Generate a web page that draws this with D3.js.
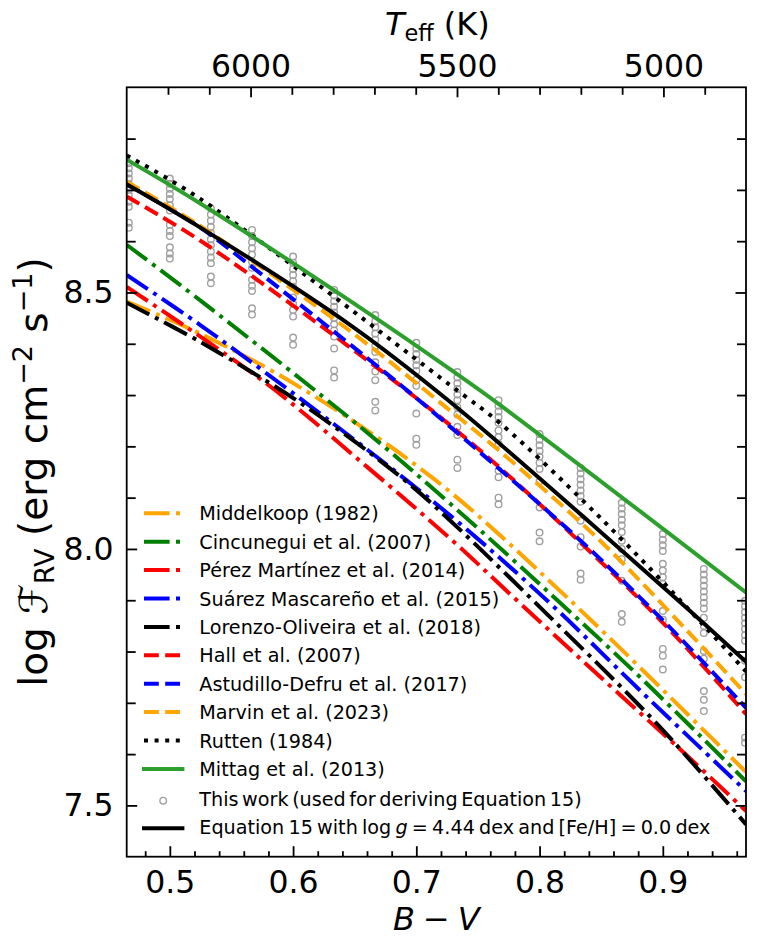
<!DOCTYPE html>
<html><head><meta charset="utf-8">
<script src="https://cdn.jsdelivr.net/npm/d3@7"></script>
<style>body{margin:0;background:#fff}svg{display:block}text{font-family:"DejaVu Sans",sans-serif;fill:#000}</style>
</head><body><svg id="c" width="757" height="948"></svg>
<script>
// ---------- data ----------
const bvTicks = [0.5, 0.6, 0.7, 0.8, 0.9];
const bvMinorTicks = [0.48,0.52,0.54,0.56,0.58,0.62,0.64,0.66,0.68,0.72,0.74,0.76,0.78,0.82,0.84,0.86,0.88,0.92,0.94,0.96];
const fTicks = [7.5, 8.0, 8.5];
const fMinorTicks = [7.6,7.7,7.8,7.9,8.1,8.2,8.3,8.4,8.6,8.7,8.8];
const teffTicks = [6000, 5500, 5000];
const teffMinorTicks = [6200,6100,5900,5800,5700,5600,5400,5300,5200,5100,4900];

const bvMiddelkoop = [0.465, 0.5244, 0.6057, 0.714, 0.8225, 0.9675];
const fMiddelkoop  = [8.482, 8.420, 8.315, 8.137, 7.905, 7.565];
const bvCincunegui = [0.465, 0.5244, 0.6545, 0.7276, 0.809, 0.882, 0.9675];
const fCincunegui  = [8.593, 8.485, 8.238, 8.088, 7.912, 7.749, 7.547];
const bvPerez = [0.465, 0.5786, 0.660, 0.7276, 0.7846, 0.844, 0.9228, 0.9675];
const fPerez  = [8.511, 8.322, 8.160, 8.020, 7.893, 7.762, 7.590, 7.489];
const bvSuarez = [0.465, 0.5244, 0.6328, 0.7276, 0.809, 0.882, 0.9675];
const fSuarez  = [8.534, 8.437, 8.244, 8.065, 7.893, 7.723, 7.528];
const bvLorenzo = [0.465, 0.5244, 0.6057, 0.687, 0.7276, 0.806, 0.8957, 0.9675];
const fLorenzo  = [8.480, 8.404, 8.285, 8.141, 8.055, 7.873, 7.658, 7.463];
const bvHall = [0.465, 0.5298, 0.7276, 0.8496, 0.9065, 0.9675];
const fHall  = [8.687, 8.593, 8.241, 7.975, 7.840, 7.678];
const bvAstudillo = [0.465, 0.5244, 0.565, 0.687, 0.7276, 0.836, 0.9065, 0.9675];
const fAstudillo  = [8.711, 8.627, 8.553, 8.320, 8.238, 8.010, 7.845, 7.690];
const bvMarvin = [0.465, 0.5244, 0.6462, 0.7273, 0.768, 0.8496, 0.920, 0.9675];
const fMarvin  = [8.716, 8.630, 8.425, 8.270, 8.190, 8.015, 7.840, 7.717];
const bvRutten = [0.465, 0.5244, 0.7276, 0.768, 0.8496, 0.9328, 0.9675];
const fRutten  = [8.767, 8.683, 8.319, 8.245, 8.060, 7.852, 7.761];
const bvMittag = [0.465, 0.5244, 0.6653, 0.7276, 0.7683, 0.9675];
const fMittag  = [8.759, 8.674, 8.453, 8.350, 8.280, 7.915];
const bvEq15 = [0.465, 0.5245, 0.6462, 0.7273, 0.8355, 0.9194, 0.9675];
const fEq15  = [8.711, 8.627, 8.437, 8.287, 8.063, 7.885, 7.780];

const thisWorkBV = [0.4667,0.5,0.5333,0.5667,0.6,0.6333,0.6667,0.7,0.7333,0.7667,0.8,0.8333,0.8667,0.9,0.9333,0.9667];
const thisWorkF = [
 [8.752,8.742,8.732,8.722,8.712,8.700,8.690,8.677,8.667,8.636,8.626],
 [8.722,8.712,8.702,8.692,8.682,8.670,8.660,8.632,8.620,8.610,8.588,8.576,8.566],
 [8.664,8.652,8.640,8.628,8.616,8.604,8.592,8.580,8.568,8.557,8.531,8.518],
 [8.622,8.610,8.598,8.586,8.574,8.560,8.548,8.525,8.513,8.503,8.469,8.457],
 [8.570,8.558,8.546,8.534,8.522,8.511,8.490,8.478,8.466,8.453,8.412,8.398],
 [8.505,8.494,8.483,8.472,8.461,8.450,8.438,8.426,8.414,8.391,8.348,8.334],
 [8.456,8.444,8.432,8.420,8.408,8.396,8.384,8.364,8.346,8.329,8.287,8.270],
 [8.402,8.391,8.380,8.369,8.358,8.347,8.330,8.318,8.264,8.215,8.203],
 [8.345,8.334,8.323,8.312,8.301,8.290,8.276,8.262,8.238,8.222,8.174,8.158],
 [8.290,8.279,8.268,8.257,8.246,8.231,8.218,8.205,8.153,8.140,8.100,8.087],
 [8.224,8.213,8.202,8.191,8.180,8.168,8.156,8.132,8.081,8.032,8.015],
 [8.158,8.147,8.136,8.125,8.114,8.103,8.092,8.055,8.023,8.005,7.952,7.940],
 [8.090,8.079,8.068,8.057,8.046,8.033,8.016,8.000,7.980,7.938,7.873,7.858],
 [8.029,8.018,8.007,7.996,7.971,7.958,7.945,7.932,7.879,7.862,7.805,7.792,7.765],
 [7.961,7.950,7.939,7.928,7.917,7.906,7.895,7.884,7.866,7.850,7.836,7.801,7.786,7.723,7.706,7.684],
 [7.899,7.888,7.877,7.866,7.855,7.844,7.832,7.821,7.782,7.750,7.632,7.622]
];

const seriesNames = ["Middelkoop (1982)","Cincunegui et al. (2007)","Pérez Martínez et al. (2014)","Suárez Mascareño et al. (2015)","Lorenzo-Oliveira et al. (2018)","Hall et al. (2007)","Astudillo-Defru et al. (2017)","Marvin et al. (2023)","Rutten (1984)","Mittag et al. (2013)"];
const seriesBV = [bvMiddelkoop,bvCincunegui,bvPerez,bvSuarez,bvLorenzo,bvHall,bvAstudillo,bvMarvin,bvRutten,bvMittag];
const seriesF  = [fMiddelkoop,fCincunegui,fPerez,fSuarez,fLorenzo,fHall,fAstudillo,fMarvin,fRutten,fMittag];
const seriesColors = ["#FFA500","#008000","#FF0000","#0000FF","#000000","#FF0000","#0000FF","#FFA500","#000000","#2CA02C"];
const seriesStyles = ["dashdot","dashdot","dashdot","dashdot","dashdot","dashed","dashed","dashed","dotted","solid"];

// ---------- drawing ----------
const W = 757, H = 948;
const X0 = 126.7, X1 = 746, Y0 = 87.3, Y1 = 856.7;
const LW = 4;
const dashes = {solid:null, dashed:`${3.7*LW},${1.6*LW}`, dashdot:`${6.4*LW},${1.6*LW},${1*LW},${1.6*LW}`, dotted:`${1*LW},${1.65*LW}`};

const svg = d3.select("#c");
svg.append("rect").attr("width",W).attr("height",H).attr("fill","#fff");

const x = d3.scaleLinear().domain([0.465, 0.9675]).range([X0, X1]);
const y = d3.scaleLinear().domain([7.4, 8.9]).range([Y1, Y0]);
const t = d3.scaleLinear().domain([6300, 4800]).range([X0, X1]);

svg.append("clipPath").attr("id","clip").append("rect")
  .attr("x",X0).attr("y",Y0).attr("width",X1-X0).attr("height",Y1-Y0);
const plot = svg.append("g").attr("clip-path","url(#clip)");

// scatter (below lines)
const pts = [];
thisWorkBV.forEach((bv,i)=>thisWorkF[i].forEach(f=>pts.push([bv,f])));
plot.append("g").selectAll("circle").data(pts).join("circle")
  .attr("cx",d=>x(d[0])).attr("cy",d=>y(d[1])).attr("r",3.3)
  .attr("fill","none").attr("stroke","#a0a0a0").attr("stroke-width",1.4);

const line = d3.line().x(d=>x(d[0])).y(d=>y(d[1])).curve(d3.curveCatmullRom.alpha(0.5));
function drawSeries(bv, f, color, style){
  plot.append("path").datum(bv.map((b,i)=>[b,f[i]]))
    .attr("d",line).attr("fill","none").attr("stroke",color).attr("stroke-width",LW)
    .attr("stroke-dasharray",dashes[style]).attr("stroke-linecap", style==="solid"?"square":"butt");
}
seriesNames.forEach((n,i)=>drawSeries(seriesBV[i],seriesF[i],seriesColors[i],seriesStyles[i]));
drawSeries(bvEq15, fEq15, "#000000", "solid");

// ---------- axes ----------
const TICKFS = 31.5;
function styleAxis(g){
  g.attr("font-size",null).attr("font-family",null);
  g.select(".domain").remove();
  g.selectAll(".tick line").attr("stroke","#000").attr("stroke-width",1.8);
  g.selectAll(".tick text").attr("font-size",TICKFS).attr("fill","#000");
}
svg.append("g").attr("transform",`translate(0,${Y1})`)
  .call(d3.axisBottom(x).tickValues(bvTicks).tickFormat(d3.format(".1f")).tickSize(-10.5).tickPadding(13.6)).call(styleAxis);
svg.append("g").attr("transform",`translate(0,${Y1})`)
  .call(d3.axisBottom(x).tickValues(bvMinorTicks).tickFormat("").tickSize(-5.5)).call(styleAxis);
svg.append("g").attr("transform",`translate(${X0},0)`)
  .call(d3.axisLeft(y).tickValues(fTicks).tickFormat(d3.format(".1f")).tickSize(-10.5).tickPadding(13.2)).call(styleAxis);
svg.append("g").attr("transform",`translate(${X0},0)`)
  .call(d3.axisLeft(y).tickValues(fMinorTicks).tickFormat("").tickSize(-9)).call(styleAxis);
svg.append("g").attr("transform",`translate(${X1},0)`)
  .call(d3.axisRight(y).tickValues(fTicks).tickFormat("").tickSize(-10.5)).call(styleAxis);
svg.append("g").attr("transform",`translate(${X1},0)`)
  .call(d3.axisRight(y).tickValues(fMinorTicks).tickFormat("").tickSize(-9)).call(styleAxis);
svg.append("g").attr("transform",`translate(0,${Y0})`)
  .call(d3.axisTop(t).tickValues(teffTicks).tickFormat(d3.format("d")).tickSize(-10).tickPadding(10.8)).call(styleAxis);
svg.append("g").attr("transform",`translate(0,${Y0})`)
  .call(d3.axisTop(t).tickValues(teffMinorTicks).tickFormat("").tickSize(-7.5)).call(styleAxis);

svg.append("rect").attr("x",X0).attr("y",Y0).attr("width",X1-X0).attr("height",Y1-Y0)
  .attr("fill","none").attr("stroke","#000").attr("stroke-width",1.8);

// ---------- axis titles ----------
const cx = (X0+X1)/2, cy = (Y0+Y1)/2;
const xl = svg.append("text").attr("x",cx).attr("y",930).attr("text-anchor","middle").attr("font-size",32);
xl.append("tspan").attr("font-style","italic").text("B");
xl.append("tspan").attr("dx",8).text("−");
xl.append("tspan").attr("dx",8).attr("font-style","italic").text("V");

const tl = svg.append("text").attr("x",cx+1).attr("y",35).attr("text-anchor","middle").attr("font-size",32);
tl.append("tspan").attr("font-style","italic").text("T");
tl.append("tspan").attr("font-size",22.4).attr("dy",5.5).text("eff");
tl.append("tspan").attr("dy",-5.5).text(" (K)");

const yl = svg.append("text").attr("transform",`translate(46.7,${cy}) rotate(-90)`).attr("text-anchor","middle").attr("font-size",39);
yl.append("tspan").text("log ");
yl.append("tspan").attr("font-style","italic").text("ℱ");
yl.append("tspan").attr("font-size",27).attr("dy",7).text("RV");
yl.append("tspan").attr("dy",-7).text(" (erg cm");
yl.append("tspan").attr("font-size",27).attr("dy",-15).text("−2");
yl.append("tspan").attr("dy",15).text(" s");
yl.append("tspan").attr("font-size",27).attr("dy",-15).text("−1");
yl.append("tspan").attr("dy",15).text(")");

// ---------- legend ----------
const LFS = 19.2, LX0 = 144, LX1 = 182.4, LTX = 199.3;
const legY = i => i < 10 ? 513.3 + 28.4*i : (i === 10 ? 800.7 : 828.3);
const leg = svg.append("g");
seriesNames.forEach((n,i)=>{
  const yy = legY(i);
  leg.append("line").attr("x1",LX0).attr("x2",LX1).attr("y1",yy).attr("y2",yy)
    .attr("stroke",seriesColors[i]).attr("stroke-width",LW)
    .attr("stroke-dasharray",dashes[seriesStyles[i]]).attr("stroke-linecap",seriesStyles[i]==="solid"?"square":"butt");
  leg.append("text").attr("x",LTX).attr("y",yy+7).attr("font-size",LFS).text(n);
});
leg.append("circle").attr("cx",(LX0+LX1)/2).attr("cy",legY(10)).attr("r",3.3)
  .attr("fill","none").attr("stroke","#a0a0a0").attr("stroke-width",1.4);
leg.append("text").attr("x",LTX).attr("y",legY(10)+5).attr("font-size",LFS).attr("word-spacing",-2.5)
  .text("This work (used for deriving Equation 15)");
leg.append("line").attr("x1",LX0).attr("x2",LX1).attr("y1",legY(11)).attr("y2",legY(11))
  .attr("stroke","#000").attr("stroke-width",LW).attr("stroke-linecap","square");
const eq = leg.append("text").attr("x",LTX).attr("y",legY(11)+6).attr("font-size",LFS).attr("word-spacing",-1.9);
eq.append("tspan").text("Equation 15 with log ");
eq.append("tspan").attr("font-style","italic").text("g");
eq.append("tspan").text(" = 4.44 dex and [Fe/H] = 0.0 dex");
</script></body></html>
